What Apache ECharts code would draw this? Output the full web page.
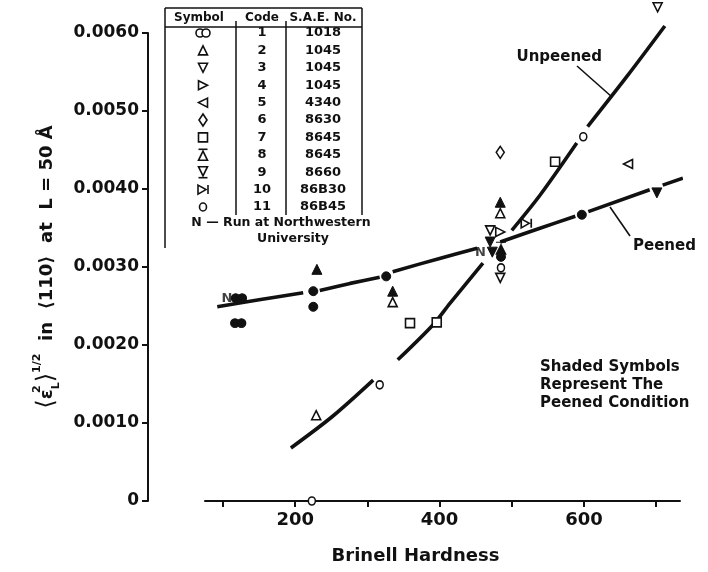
<!DOCTYPE html>
<html><head><meta charset="utf-8">
<script src="https://cdn.jsdelivr.net/npm/echarts@6/dist/echarts.min.js"></script>
<style>html,body{margin:0;padding:0;background:#fff}#c{width:708px;height:572px}</style>
</head><body><div id="c"></div>
<script>
// ---------- data ----------
const xTickValues = [100, 200, 300, 400, 500, 600, 700];
const xLabelValues = [200, 400, 600];
const yMin = 0, yMax = 0.006, yStep = 0.001;

// [Brinell, strain, code]  open symbols = unpeened
const unpeenedPoints = [
  [223, 0.0000, 11], [229, 0.00110, 2], [317, 0.00149, 11],
  [359, 0.00228, 7], [396, 0.00229, 7],
  [335, 0.00255, 2], [484, 0.00369, 2], [470, 0.00347, 3], [484, 0.00345, 4],
  [520, 0.00356, 10], [485, 0.00299, 11], [484, 0.00286, 3], [484, 0.00447, 6],
  [560, 0.00435, 7], [599, 0.00467, 11], [661, 0.00432, 5], [702, 0.00633, 3]
];
// shaded symbols = peened
const peenedPoints = [
  [122, 0.00260, 1], [121, 0.00228, 1],
  [225, 0.00269, 11], [225, 0.00249, 11], [230, 0.00297, 2],
  [326, 0.00288, 11], [335, 0.00269, 2],
  [484, 0.00383, 2], [470, 0.00332, 3], [473, 0.00319, 3], [485, 0.00324, 8],
  [485, 0.00313, 11], [597, 0.00367, 11], [701, 0.00395, 3]
];
const northwesternRuns = [[122, 0.00260], [473, 0.00319]];

// fitted curves, drawn in pieces (gaps around symbols as in the original)
const unpeenedCurve = [
  [[194, 0.00068], [251, 0.00108], [308, 0.00155]],
  [[342, 0.00181], [391, 0.00226], [414, 0.00253], [460, 0.00305]],
  [[500, 0.00347], [539, 0.00392], [590, 0.00459]],
  [[605, 0.00480], [660, 0.00545], [712, 0.00609]]
];
const peenedCurve = [
  [[92, 0.00249], [150, 0.00258], [211, 0.00267]],
  [[234, 0.00270], [276, 0.00279], [317, 0.00287]],
  [[335, 0.00294], [400, 0.00311], [452, 0.00324]],
  [[484, 0.00332], [540, 0.00350], [588, 0.00365]],
  [[606, 0.00371], [691, 0.00399]],
  [[709, 0.00405], [737, 0.00414]]
];

const legendCodes = ['1', '2', '3', '4', '5', '6', '7', '8', '9', '10', '11'];
const legendSAE = ['1018', '1045', '1045', '1045', '4340', '8630', '8645', '8645', '8660', '86B30', '86B45'];

// ---------- symbol shapes (unit boxes) ----------
const SHAPES = {
  1: { box: [14, 8], circles: [[4, 4, 4], [10, 4, 4]] },
  2: { box: [10, 10], poly: [[5, 0], [10, 10], [0, 10]] },
  3: { box: [10, 10], poly: [[0, 0], [10, 0], [5, 10]] },
  4: { box: [10, 10], poly: [[0, 0], [10, 5], [0, 10]] },
  5: { box: [10, 10], poly: [[10, 0], [0, 5], [10, 10]] },
  6: { box: [10, 14], poly: [[5, 0], [10, 7], [5, 14], [0, 7]] },
  7: { box: [10, 10], poly: [[0, 0], [10, 0], [10, 10], [0, 10]] },
  8: { box: [10, 12], poly: [[5, 2], [10, 12], [0, 12]], lines: [[0, 0, 10, 0]] },
  9: { box: [10, 12], poly: [[0, 0], [10, 0], [5, 10]], lines: [[0, 12, 10, 12]] },
  10: { box: [10, 10], poly: [[0, 0], [8, 5], [0, 10]], lines: [[10, 0, 10, 10]] },
  11: { box: [10, 10], circles: [[5, 5, 5]] }
};
const OPEN_SIZES = {
  1: [14, 8], 2: [9, 9], 3: [9, 9], 4: [9, 9], 5: [9, 9], 6: [8, 12],
  7: [9, 9], 8: [9, 11], 9: [9, 11], 10: [10, 9], 11: [7, 8]
};
const FILLED_SIZES = {
  1: [15, 9], 2: [10, 10], 3: [10, 10], 4: [10, 10], 5: [10, 10], 6: [9, 13],
  7: [10, 10], 8: [10, 12], 9: [10, 12], 10: [11, 10], 11: [9, 9]
};
function shapePath(code) {
  const s = SHAPES[code];
  let d = '';
  if (s.poly) d += s.poly.map((p, i) => (i ? 'L' : 'M') + p[0] + ',' + p[1]).join('') + 'Z';
  (s.circles || []).forEach(c => {
    const [cx, cy, r] = c;
    d += 'M' + (cx - r) + ',' + cy + 'A' + r + ',' + r + ',0,1,1,' + (cx + r) + ',' + cy +
         'A' + r + ',' + r + ',0,1,1,' + (cx - r) + ',' + cy + 'Z';
  });
  (s.lines || []).forEach(l => { d += 'M' + l[0] + ',' + l[1] + 'L' + l[2] + ',' + l[3]; });
  return 'path://' + d;
}

const FONT = 'DejaVu Sans';
const INK = '#111';

// ---------- series ----------
const series = [];
function curveSeries(segs) {
  segs.forEach(seg => series.push({
    type: 'line', data: seg, smooth: 0.3, symbol: 'none', clip: false, silent: true,
    lineStyle: { color: INK, width: 3.6 }, z: 2
  }));
}
curveSeries(unpeenedCurve);
curveSeries(peenedCurve);

series.push({
  type: 'scatter', data: unpeenedPoints, clip: false, z: 5,
  symbol: v => shapePath(v[2]),
  symbolSize: v => OPEN_SIZES[v[2]],
  itemStyle: { color: '#fff', borderColor: INK, borderWidth: 1.6, opacity: 1 }
});
series.push({
  type: 'scatter', data: peenedPoints, clip: false, z: 6,
  symbol: v => shapePath(v[2]),
  symbolSize: v => FILLED_SIZES[v[2]],
  itemStyle: { color: INK, borderColor: INK, borderWidth: 1, opacity: 1 }
});
series.push({
  type: 'scatter', data: northwesternRuns, clip: false, z: 7,
  symbolSize: 13, itemStyle: { color: 'rgba(0,0,0,0)' },
  label: { show: true, position: 'left', distance: 0, formatter: 'N',
    fontFamily: FONT, fontWeight: 'bold', fontSize: 13, color: INK }
});

// ---------- legend table (graphic) ----------
const graphic = [];
const L = 165, R = 362, C1 = 236, C2 = 286;
const line = (x1, y1, x2, y2, w) => ({ type: 'line', shape: { x1, y1, x2, y2 }, style: { stroke: INK, lineWidth: w || 1.5 }, silent: true });
const text = (t, x, y, size, align, weight) => ({
  type: 'text', silent: true,
  style: { text: t, x, y, fill: INK, font: (weight || 'bold') + ' ' + size + 'px "' + FONT + '"',
    textAlign: align || 'center', align: align || 'center', textVerticalAlign: 'middle', verticalAlign: 'middle' }
});
function legendSymbol(code, cx, cy) {
  const s = SHAPES[code], sz = OPEN_SIZES[code];
  const kx = sz[0] / s.box[0], ky = sz[1] / s.box[1];
  const x0 = cx - sz[0] / 2, y0 = cy - sz[1] / 2;
  const st = { fill: '#fff', stroke: INK, lineWidth: 1.6 };
  if (s.poly) graphic.push({ type: 'polygon', silent: true,
    shape: { points: s.poly.map(p => [x0 + p[0] * kx, y0 + p[1] * ky]) }, style: st });
  (s.circles || []).forEach(c => graphic.push({ type: 'ellipse', silent: true,
    shape: { cx: x0 + c[0] * kx, cy: y0 + c[1] * ky, rx: c[2] * kx, ry: c[2] * ky }, style: st }));
  (s.lines || []).forEach(l => graphic.push(line(x0 + l[0] * kx, y0 + l[1] * ky, x0 + l[2] * kx, y0 + l[3] * ky, 1.6)));
}
graphic.push(line(L, 8, R, 8));
graphic.push(line(L, 27, R, 27));
graphic.push(line(L, 8, L, 248));
graphic.push(line(R, 8, R, 215));
graphic.push(line(C1, 21, C1, 215));
graphic.push(line(C2, 21, C2, 215));
graphic.push(text('Symbol', 199, 18, 12));
graphic.push(text('Code', 262, 18, 12));
graphic.push(text('S.A.E. No.', 323, 18, 12));
legendCodes.forEach((c, i) => {
  const y = 33 + i * 17.4;
  legendSymbol(+c, 203, y);
  graphic.push(text(c, 262, y, 13));
  graphic.push(text(legendSAE[i], 323, y, 13));
});
graphic.push(text('N \u2014 Run at Northwestern', 281, 223, 12.5));
graphic.push(text('University', 293, 239, 12.5));

// annotations
graphic.push(text('Unpeened', 602, 57, 15, 'right'));
graphic.push(line(577, 66, 612, 97, 1.6));
graphic.push(text('Peened', 633, 246, 15, 'left'));
graphic.push(line(630, 236, 610, 207, 1.6));
graphic.push(text('Shaded Symbols', 540, 367, 15, 'left'));
graphic.push(text('Represent The', 540, 385, 15, 'left'));
graphic.push(text('Peened Condition', 540, 403, 15, 'left'));

// ---------- chart ----------
const chart = echarts.init(document.getElementById('c'), null, { renderer: 'canvas' });
chart.setOption({
  animation: false,
  backgroundColor: '#fff',
  grid: { left: 205, right: 28, top: 33, bottom: 71, containLabel: false },
  xAxis: {
    type: 'value', min: 75, max: 733,
    name: 'Brinell Hardness', nameLocation: 'middle', nameGap: 46,
    nameTextStyle: { fontFamily: FONT, fontWeight: 'bold', fontSize: 18, color: INK, padding: [0, 54, 0, 0] },
    axisLine: { show: true, lineStyle: { color: INK, width: 2 } },
    axisTick: { show: true, length: 6, lineStyle: { color: INK, width: 2 }, customValues: xTickValues },
    axisLabel: { customValues: xLabelValues, margin: 10, fontFamily: FONT, fontWeight: 'bold', fontSize: 18, color: INK },
    splitLine: { show: false }
  },
  yAxis: {
    type: 'value', min: yMin, max: yMax, interval: yStep, offset: 57,
    name: '{br|\u27E8}{t|\u03B5}{sup0|2}{sub|L}{br|\u27E9}{sup|1/2}{t|  in  \u27E8110\u27E9  at  L = 50 \u00C5}',
    nameLocation: 'middle', nameRotate: 90, nameGap: 86,
    nameTextStyle: {
      fontFamily: FONT, fontWeight: 'bold', fontSize: 18, color: INK,
      rich: {
        t: { fontFamily: FONT, fontWeight: 'bold', fontSize: 18, color: INK, lineHeight: 30 },
        br: { fontFamily: FONT, fontWeight: 'normal', fontSize: 24, color: INK, lineHeight: 30 },
        sup0: { fontFamily: FONT, fontWeight: 'bold', fontSize: 11, color: INK, lineHeight: 30, verticalAlign: 'top', width: 0, align: 'left' },
        sup: { fontFamily: FONT, fontWeight: 'bold', fontSize: 11, color: INK, lineHeight: 30, verticalAlign: 'top' },
        sub: { fontFamily: FONT, fontWeight: 'bold', fontSize: 11, color: INK, lineHeight: 30, verticalAlign: 'bottom' }
      }
    },
    axisLine: { show: true, lineStyle: { color: INK, width: 2 } },
    axisTick: { show: true, length: 6, lineStyle: { color: INK, width: 2 } },
    axisLabel: { margin: 9, fontFamily: FONT, fontWeight: 'bold', fontSize: 17, color: INK,
      formatter: v => (v === 0 ? '0' : v.toFixed(4)) },
    splitLine: { show: false }
  },
  graphic: graphic,
  series: series
});
</script></body></html>
